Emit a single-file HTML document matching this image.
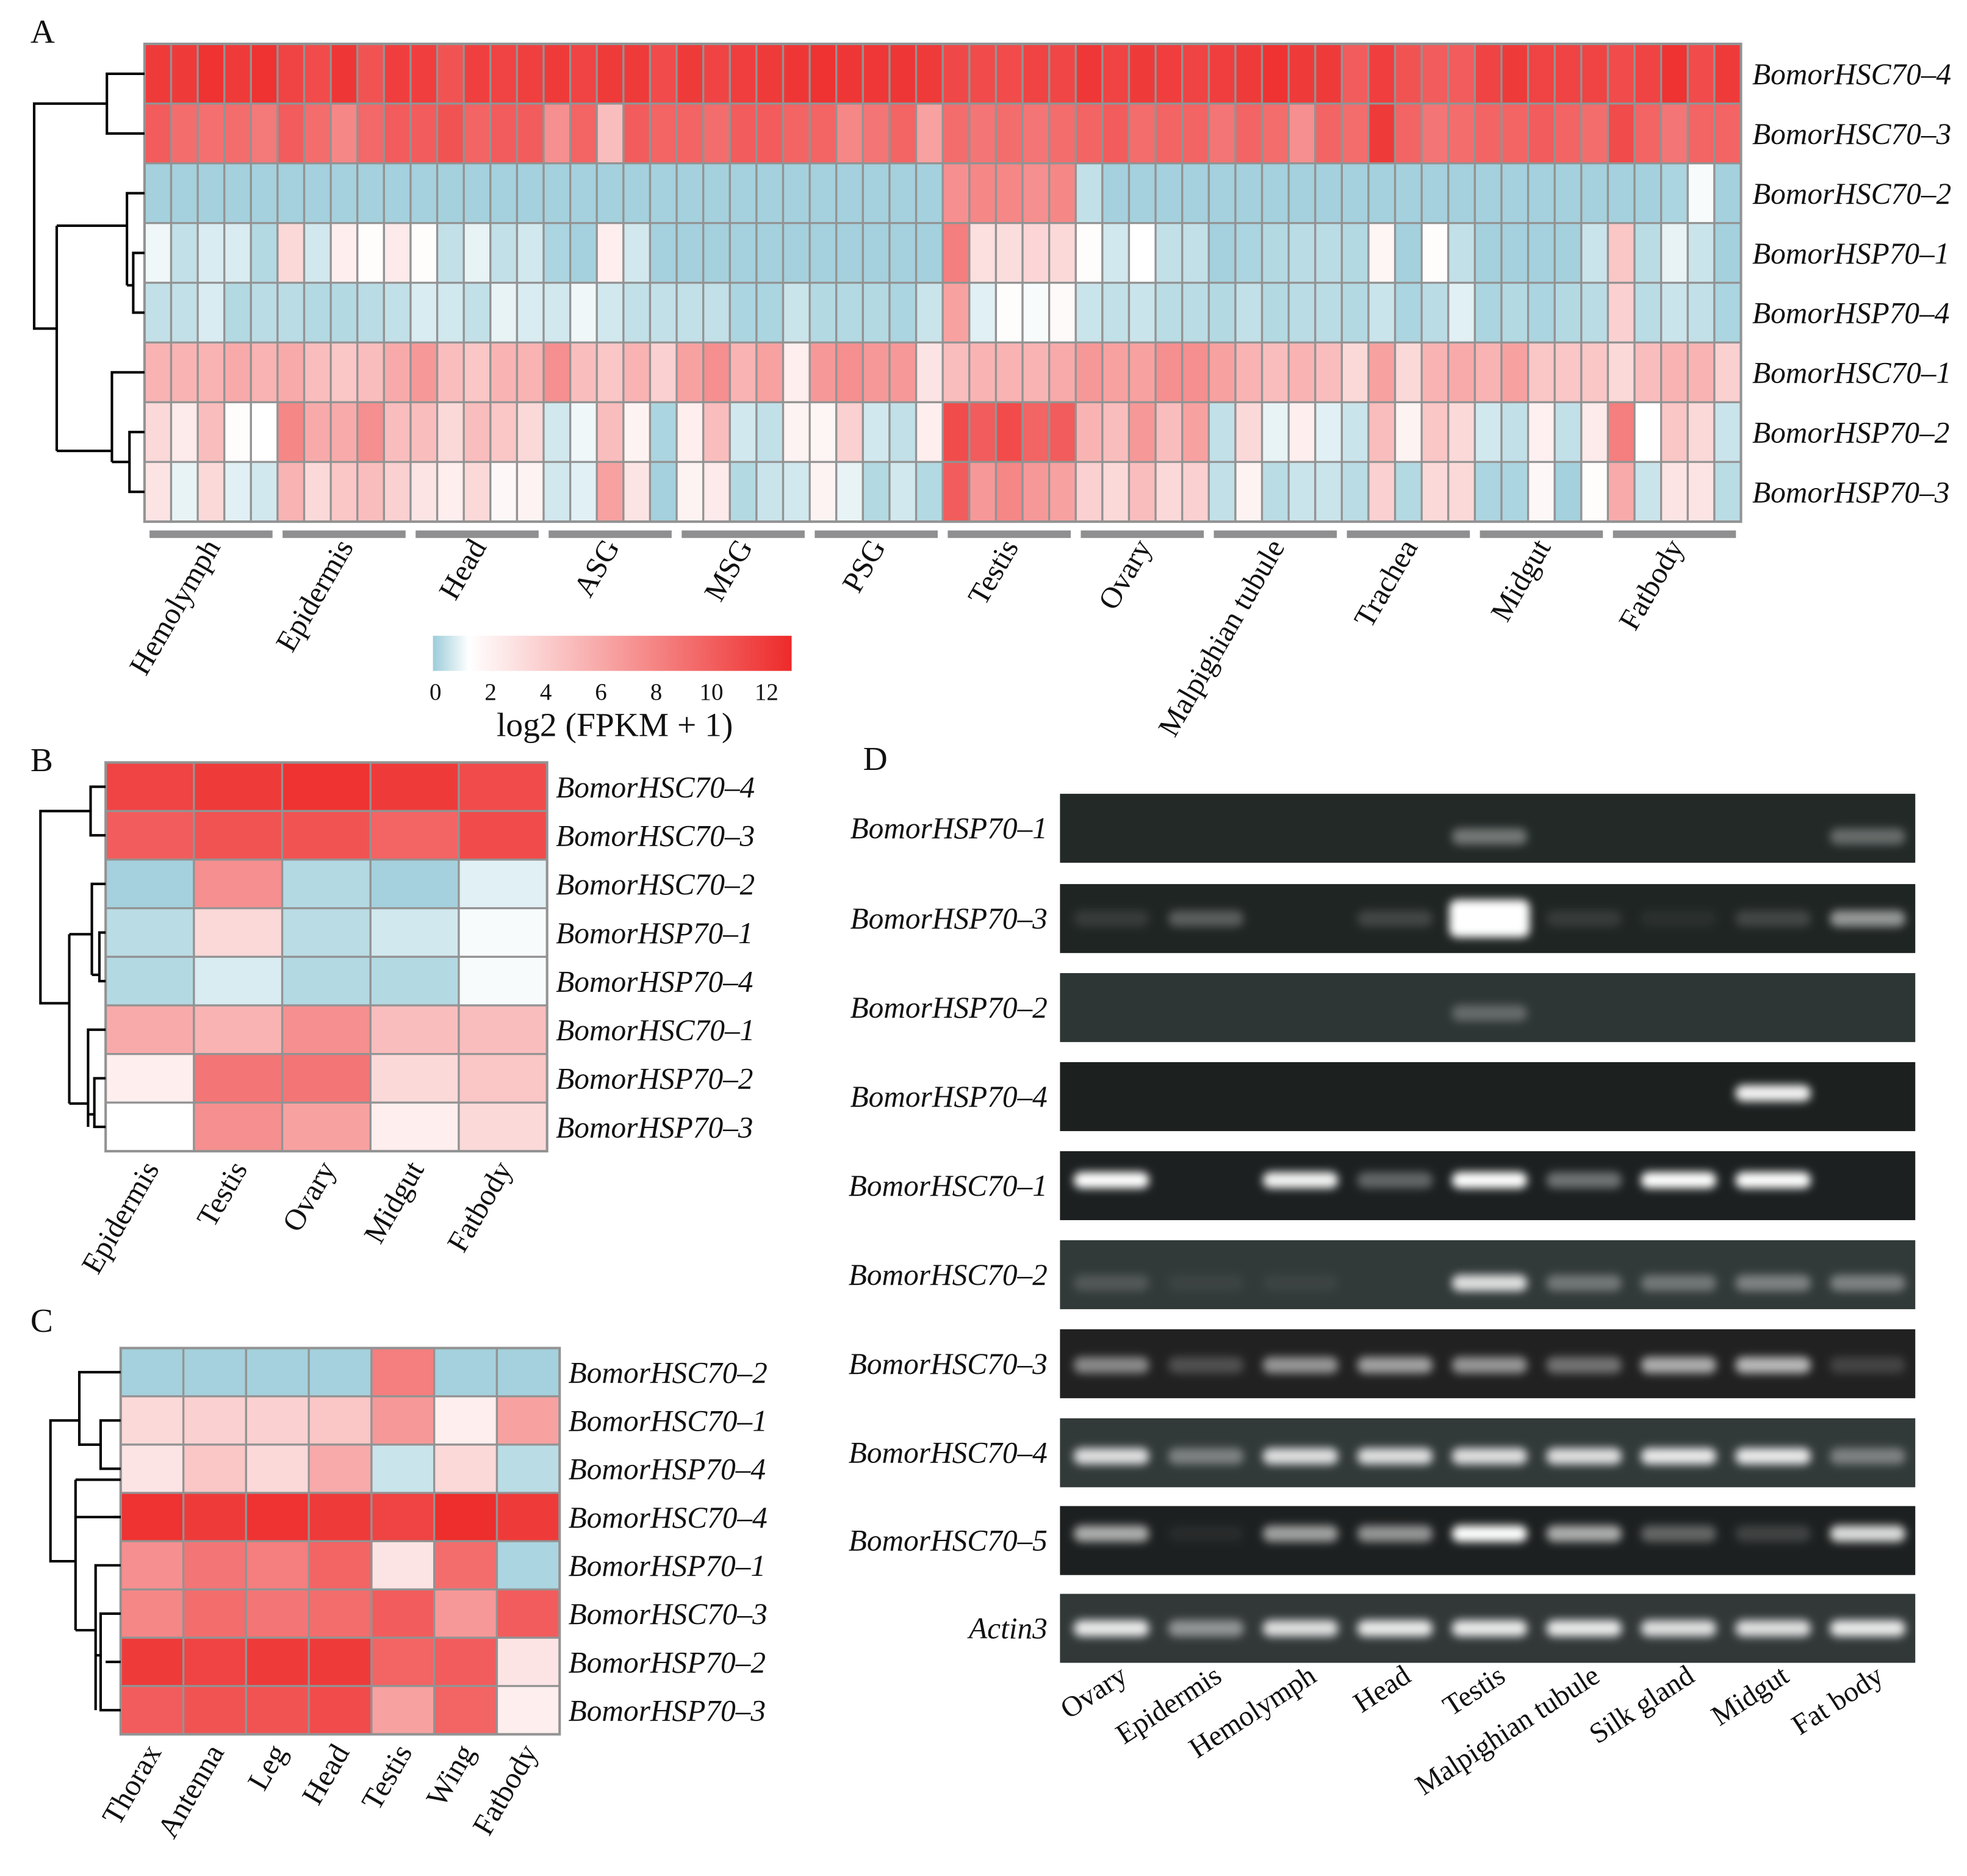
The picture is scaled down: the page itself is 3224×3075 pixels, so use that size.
<!DOCTYPE html>
<html><head><meta charset="utf-8"><style>
html,body{margin:0;padding:0;background:#fff}
svg{display:block}
text{font-family:"Liberation Serif",serif}
</style></head><body>
<svg id="fig" xmlns="http://www.w3.org/2000/svg" width="3224" height="3075" viewBox="0 0 1568 1496">
<defs>
<linearGradient id="lg" x1="0" x2="1" y1="0" y2="0">
<stop offset="0" stop-color="#9ccdda"/><stop offset="0.1" stop-color="#ffffff"/><stop offset="1" stop-color="#ee2a2a"/>
</linearGradient>
<filter id="blur" x="-50%" y="-100%" width="200%" height="300%"><feGaussianBlur stdDeviation="3.5"/></filter>
</defs>
<g id="root"></g>
</svg>
<script>
// ---- Panel A data ----
const genesA = ["BomorHSC70\u20134","BomorHSC70\u20133","BomorHSC70\u20132","BomorHSP70\u20131","BomorHSP70\u20134","BomorHSC70\u20131","BomorHSP70\u20132","BomorHSP70\u20133"];
const tissuesA = ["Hemolymph","Epidermis","Head","ASG","MSG","PSG","Testis","Ovary","Malpighian tubule","Trachea","Midgut","Fatbody"];
const rowA1 = [12,12,12.5,12,12.5,11.5,11,12.3,10.5,11.8,11.8,10.5,11.7,11.5,11.7,12,11.5,12,12,11,12,11.5,11.8,12,12.3,12.5,12.3,12.2,12.3,12,11.2,11,11,11.5,11.3,12.2,11.5,12,11.8,11.5,11.8,12,12.5,12,12,10,11.8,10.5,10,10,11.5,12,11.5,11.5,11.5,11,11.5,12.5,11,12];
const rowA2 = [10,9,8.8,9,8.3,10,9,7.5,9.3,10,10,10.5,9.5,10,10,7,9.5,4.5,10,9.5,9.5,9,10,10,9.5,9.5,7.5,8.5,9.5,6,9,8.5,9,8.5,9,9.5,10,9,9.5,9.5,8.5,9.5,9,7,9.5,9,12,9.5,8.5,9,9.5,9.5,10,9.5,9,11,9.5,8.5,9.5,9.5];
const rowA3 = [0.1,0.1,0.1,0.1,0.1,0.1,0.1,0.1,0.1,0.1,0.1,0.1,0.1,0.1,0.1,0.1,0.1,0.1,0.1,0.1,0.1,0.1,0.1,0.1,0.1,0.1,0.1,0.1,0.1,0.1,7,7.5,7.5,7,7.5,0.5,0.1,0.1,0.1,0.1,0.1,0.1,0.1,0.1,0.1,0.1,0.1,0.1,0.1,0.1,0.1,0.1,0.1,0.1,0.1,0.1,0.1,0.2,1.2,0.1];
const rowA4 = [1.1,0.5,0.8,0.8,0.3,3,0.7,2,1.4,2.2,1.4,0.5,1.0,0.5,0.7,0.2,0.1,2,0.7,0.1,0.1,0.1,0.1,0.1,0.1,0.1,0.1,0.1,0.1,0.1,8,2.7,2.8,3.2,3,1.4,0.7,1.3,0.5,0.5,0.1,0.2,0.3,0.4,0.4,0.3,1.7,0.1,1.4,0.5,0.1,0.1,0.1,0.1,0.6,4,0.4,1.0,0.6,0.1];
const rowA5 = [0.5,0.5,0.8,0.3,0.4,0.4,0.3,0.3,0.4,0.5,0.8,0.7,0.5,1.0,0.8,0.7,1.1,0.7,0.5,0.5,0.5,0.5,0.2,0.2,0.6,0.3,0.3,0.3,0.2,0.6,6,0.9,1.4,1.2,1.5,0.6,0.5,0.6,0.4,0.4,0.3,0.5,0.3,0.4,0.4,0.3,0.6,0.2,0.4,0.9,0.2,0.3,0.2,0.3,0.4,3.5,0.4,0.6,0.5,0.2];
const rowA6 = [5,5,5,5.5,5,5.5,4.5,4,4.5,5.5,6.5,4.5,4,5,5,7,4.5,4,5,3.5,6,7,5,6,2,6.5,7,6.5,6.5,2.5,4.5,5,5,5,5.5,6.5,6,6,7,7,6,5,4.5,5,4.5,3,6,3,5,5.5,5,6,4,4,4,3,4.5,5,5,3.5];
const rowA7 = [3,2.2,4.5,1.4,1.3,7.5,5.5,5.5,7,4.5,4.5,3,4.5,4,3,0.7,1.1,4.5,1.8,0.2,2,4.5,0.7,0.5,1.8,1.7,3.5,0.7,0.5,2,11,10,11,9.5,10,5,4.5,6.5,4.5,6,0.5,3,1.0,2,0.9,0.6,4.5,1.8,4,3,0.7,0.5,1.9,0.5,2.2,8,1.3,4,3,0.6];
const rowA8 = [2.5,1.0,3,0.9,0.7,5,3,4,4.5,3.5,2.5,2,3,1.6,1.8,0.7,0.9,6,2.5,0.1,1.8,2.2,0.3,0.6,0.7,1.8,1.0,0.3,0.7,0.3,10,6.5,7.5,6.5,6,3.5,3,4.5,3,3.5,0.5,1.8,0.4,0.6,0.6,0.4,3.5,0.3,3,3,0.2,0.2,1.6,0.1,1.4,5.5,0.6,2.5,2.5,0.4];
const legendTicks = [0,2,4,6,8,10,12];
// ---- Panel B data ----
const genesB = ["BomorHSC70\u20134","BomorHSC70\u20133","BomorHSC70\u20132","BomorHSP70\u20131","BomorHSP70\u20134","BomorHSC70\u20131","BomorHSP70\u20132","BomorHSP70\u20133"];
const tissuesB = ["Epidermis","Testis","Ovary","Midgut","Fatbody"];
const rowB1 = [11.5,12,12.5,12,11];
const rowB2 = [10,10.5,10.5,9.5,11];
const rowB3 = [0.1,7,0.3,0.1,0.9];
const rowB4 = [0.4,3,0.4,0.7,1.2];
const rowB5 = [0.3,0.8,0.3,0.3,1.2];
const rowB6 = [5.5,5,7,4.5,4.5];
const rowB7 = [2,8.5,8.5,3,4];
const rowB8 = [1.3,7,6,2,3];
// ---- Panel C data ----
const genesC = ["BomorHSC70\u20132","BomorHSC70\u20131","BomorHSP70\u20134","BomorHSC70\u20134","BomorHSP70\u20131","BomorHSC70\u20133","BomorHSP70\u20132","BomorHSP70\u20133"];
const tissuesC = ["Thorax","Antenna","Leg","Head","Testis","Wing","Fatbody"];
const rowC1 = [0.1,0.1,0.1,0.1,8,0.1,0.1];
const rowC2 = [3,3.5,3.5,4,6.5,2,6];
const rowC3 = [2.5,4,3,5.5,0.6,3,0.4];
const rowC4 = [12.5,12,12.5,12,11.5,12.8,12];
const rowC5 = [7,8.5,8,9.5,2.5,9,0.2];
const rowC6 = [7.5,9,8.5,9,10,6.5,10];
const rowC7 = [12,11.5,12,12,9.5,10,2.5];
const rowC8 = [10,10.5,10.5,11,6,9.5,2];
// ---- Panel D data (band intensity 0..1) ----
const gelGenes = ["BomorHSP70\u20131","BomorHSP70\u20133","BomorHSP70\u20132","BomorHSP70\u20134","BomorHSC70\u20131","BomorHSC70\u20132","BomorHSC70\u20133","BomorHSC70\u20134","BomorHSC70\u20135","Actin3"];
const gelLanes = ["Ovary","Epidermis","Hemolymph","Head","Testis","Malpighian tubule","Silk gland","Midgut","Fat body"];
const gel1 = [0,0,0,0,0.35,0,0,0,0.3];
const gel2 = [0.1,0.25,0,0.15,1,0.1,0.05,0.15,0.5];
const gel3 = [0,0,0,0,0.25,0,0,0,0];
const gel4 = [0,0,0,0,0,0,0,0.9,0];
const gel5 = [1,0,0.9,0.3,1,0.35,1,0.95,0];
const gel6 = [0.15,0.05,0.05,0,0.8,0.3,0.3,0.35,0.35];
const gel7 = [0.45,0.2,0.5,0.55,0.5,0.35,0.6,0.65,0.15];
const gel8 = [0.8,0.35,0.8,0.8,0.8,0.8,0.85,0.85,0.35];
const gel9 = [0.6,0.05,0.55,0.5,1,0.6,0.3,0.15,0.8];
const gel10 = [0.85,0.45,0.8,0.85,0.85,0.85,0.8,0.8,0.85];

const NS="http://www.w3.org/2000/svg";
const root=document.getElementById('root');
function mk(tag,attrs,parent){const e=document.createElementNS(NS,tag);for(const k in attrs)e.setAttribute(k,attrs[k]);(parent||root).appendChild(e);return e;}
function lerp(a,b,t){return Math.round(a+(b-a)*t);}
function color(v){
  const b=[156,205,218],w=[255,255,255],r=[238,42,42];let c;
  if(v<=1.3){const t=Math.max(0,v/1.3);c=[lerp(b[0],w[0],t),lerp(b[1],w[1],t),lerp(b[2],w[2],t)];}
  else{const t=Math.min(1,Math.pow((v-1.3)/11.7,0.9));c=[lerp(w[0],r[0],t),lerp(w[1],r[1],t),lerp(w[2],r[2],t)];}
  return `rgb(${c[0]},${c[1]},${c[2]})`;
}
function heatmap(rows,x0,y0,w,h,name){
  const g=mk('g',{});
  
  
  const nr=rows.length,nc=rows[0].length,cw=w/nc,ch=h/nr;
  rows.forEach((row,i)=>row.forEach((v,j)=>{
    const r=mk('rect',{x:x0+j*cw,y:y0+i*ch,width:cw,height:ch,fill:color(v),stroke:'#939393','stroke-width':1.6},g);
    
    
  }));
  mk('rect',{x:x0,y:y0,width:w,height:h,fill:'none',stroke:'#939393','stroke-width':2},g);
  return {cw,ch};
}
function rowLabels(genes,x,y0,ch,size){
  genes.forEach((gname,i)=>{
    const t=mk('text',{x:x,y:y0+(i+0.5)*ch+size*0.35,'font-size':size,'font-style':'italic',fill:'#111'});
    t.textContent=gname;
    
    
  });
}
function colLabels(labels,x0,cw,y,size,ang){
  labels.forEach((l,j)=>{
    const cx=x0+(j+0.5)*cw;
    const t=mk('text',{x:cx+8,y:y,'font-size':size,'text-anchor':'end',transform:`rotate(${ang} ${cx+8} ${y})`,fill:'#111'});
    t.textContent=l;
    
    
  });
}
function tree(segs){
  const g=mk('g',{stroke:'#000','stroke-width':2,fill:'none'});
  
  
  segs.forEach(s=>mk('path',{d:s},g));
}
function letter(s,x,y){const t=mk('text',{x:x,y:y,'font-size':27,fill:'#111'});t.textContent=s;}

// ===== Panel A =====
letter('A',24,34);
const A={x:115,y:35,w:1273,h:381};
const ra=heatmap([rowA1,rowA2,rowA3,rowA4,rowA5,rowA6,rowA7,rowA8],A.x,A.y,A.w,A.h,'heatmap-a');
rowLabels(genesA,1397,A.y,ra.ch,24);
const chA=ra.ch, yA=i=>A.y+(i+0.5)*chA;
tree([
 `M115 ${yA(0)} H85 V${yA(1)} H115`,
 `M85 ${(yA(0)+yA(1))/2} H27 V262 H45`,
 `M115 ${yA(2)} H101 V${(yA(3)+yA(4))/2+2}`,
 `M115 ${yA(3)} H106 V${yA(4)} H115`,
 `M101 ${(yA(3)+yA(4))/2+2} H106`,
 `M45 180 V${(yA(5)+yA(6)+yA(7))/3+15}`,
 `M45 180 H101`,
 `M115 ${yA(5)} H89 V${yA(6)/2+yA(7)/2}`,
 `M115 ${yA(6)} H103 V${yA(7)} H115`,
 `M89 ${yA(6)/2+yA(7)/2} H103`,
 `M45 ${(yA(5)+yA(6)+yA(7))/3+15} H89`
]);
tissuesA.forEach((t,k)=>{
  const gw=A.w/12;
  const b=mk('rect',{x:A.x+k*gw+4,y:423,width:gw-8,height:6,fill:'#8f8f91'});
  
  
});
colLabels(tissuesA,A.x,A.w/12,436,24,-60);
// legend
const L={x:345,y:507,w:286,h:28};
const lg=mk('rect',{x:L.x,y:L.y,width:L.w,height:L.h,fill:'url(#lg)'});


legendTicks.forEach(v=>{
  const t=mk('text',{x:L.x+2+v/13*L.w,y:558,'font-size':19,'text-anchor':'middle',fill:'#111'});
  t.textContent=v;
  
  
});
const lt=mk('text',{x:490,y:587,'font-size':27,'text-anchor':'middle',fill:'#111'});lt.textContent='log2 (FPKM + 1)';



// ===== Panel B =====
letter('B',24,615);
const B={x:84,y:608,w:352,h:310};
const rb=heatmap([rowB1,rowB2,rowB3,rowB4,rowB5,rowB6,rowB7,rowB8],B.x,B.y,B.w,B.h,'heatmap-b');
rowLabels(genesB,443,B.y,rb.ch,24);
const yB=i=>B.y+(i+0.5)*rb.ch;
tree([
 `M84 ${yB(0)} H72 V${yB(1)} H84`,
 `M72 ${(yB(0)+yB(1))/2} H32 V800 H55`,
 `M55 745 V880`,
 `M55 745 H73`,`M84 ${yB(2)} H73 V${yB(4)-5}`,`M84 ${yB(3)} H79 V${yB(4)} H84`,`M73 ${yB(4)-5} H79`,
 `M55 880 H70`,`M84 ${yB(5)} H70 V${yB(7)}`,`M84 ${yB(6)} H75 V${yB(7)} H84`,`M70 ${yB(7)-10} H75`
]);
colLabels(tissuesB,B.x,rb.cw,932,24,-60);

// ===== Panel C =====
letter('C',24,1062);
const C={x:96,y:1075,w:350,h:308};
const rc=heatmap([rowC1,rowC2,rowC3,rowC4,rowC5,rowC6,rowC7,rowC8],C.x,C.y,C.w,C.h,'heatmap-c');
rowLabels(genesC,453,C.y,rc.ch,24);
const yC=i=>C.y+(i+0.5)*rc.ch;
tree([
 `M96 ${yC(0)} H63 V${(yC(1)+yC(2))/2} H80`,
 `M96 ${yC(1)} H80 V${yC(2)} H96`,
 `M63 ${(yC(0)+yC(1)+yC(2))/3} H40 V1245 H60`,
 `M60 1180 V1300`,
 `M60 1180 H96 M96 ${yC(3)} H90`,
 `M60 ${yC(3)} H96`,
 `M60 1300 H76`,`M96 ${yC(4)} H76 V${yC(7)}`,`M96 ${yC(5)} H80 V${yC(7)} H96`,`M96 ${yC(6)} H84`,`M76 1320 H80`
]);
colLabels(tissuesC,C.x,rc.cw,1397,24,-60);

// ===== Panel D =====
letter('D',688,614);
const gelRows=[gel1,gel2,gel3,gel4,gel5,gel6,gel7,gel8,gel9,gel10];
const gelTop=[633,705,776,847,918,989,1060,1131,1201,1271];
const gelBg=['#222927','#1f2523','#2e3535','#1c2120','#1c2020','#323939','#212121','#323939','#1d2020','#323838'];
const bandPos=[0.62,0.5,0.58,0.45,0.42,0.62,0.52,0.55,0.4,0.5];
const G={x:845,w:682,h:55};
const laneX=j=>886+j*(1489-886)/8;
gelRows.forEach((row,i)=>{
  const g=mk('g',{});
  
  
  mk('rect',{x:G.x,y:gelTop[i],width:G.w,height:G.h,fill:gelBg[i]},g);
  const bg=mk('g',{filter:'url(#blur)'},g);
  row.forEach((v,j)=>{
    if(v<=0)return;
    const big=v>=0.95&&(i===1||i===5);
    const bh=big?(i===5?36:30):13;
    const bw=big?64:60;
    const cy=gelTop[i]+G.h*bandPos[i];
    const b=mk('rect',{x:laneX(j)-bw/2,y:cy-bh/2,width:bw,height:bh,rx:6,fill:'#fff','fill-opacity':Math.min(1,v*1.05)},bg);
    
    
  });
  const t=mk('text',{x:835,y:gelTop[i]+G.h/2+8,'font-size':24,'font-style':'italic','text-anchor':'end',fill:'#111'});
  t.textContent=gelGenes[i];
  
  
});
gelLanes.forEach((l,j)=>{
  const x=laneX(j)+14,y=1340;
  const t=mk('text',{x:x,y:y,'font-size':23,'text-anchor':'end',transform:`rotate(-33 ${x} ${y})`,fill:'#111'});
  t.textContent=l;
  
  
});
</script>
</body></html>
